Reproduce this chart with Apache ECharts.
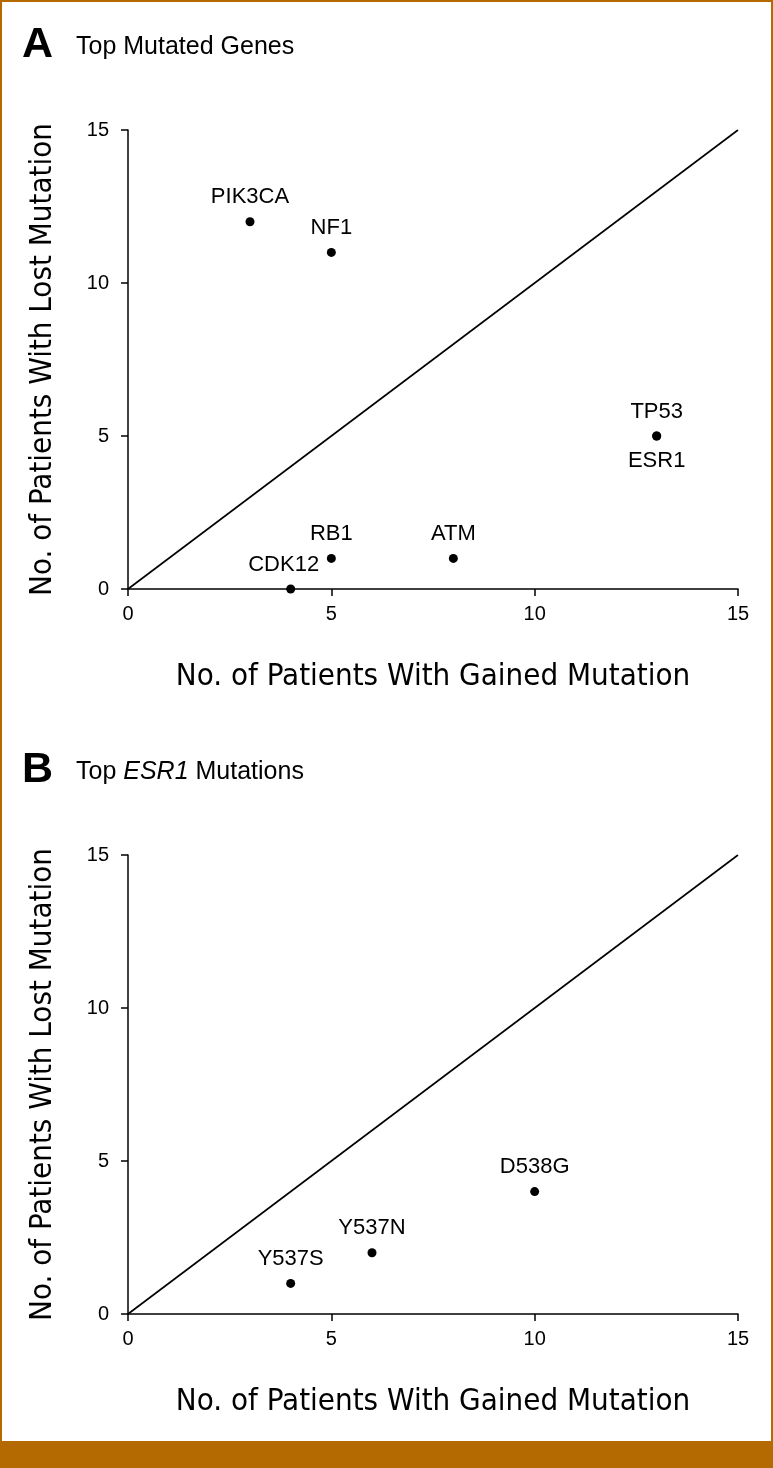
<!DOCTYPE html>
<html><head><meta charset="utf-8">
<script src="https://cdn.jsdelivr.net/npm/echarts@6/dist/echarts.min.js"></script>
<style>html,body{margin:0;padding:0;background:#fff}#c{width:773px;height:1468px}</style>
</head><body><div id="c"></div>
<script>
// Panel A: top mutated genes
const genesA = ['PIK3CA','NF1','TP53','ESR1','RB1','ATM','CDK12'];
const gainedA = [3,5,13,13,5,8,4];
const lostA   = [12,11,5,5,1,1,0];
const labelPosA = ['top','top','top','bottom','top','top','top'];
// Panel B: top ESR1 mutations
const mutsB = ['Y537S','Y537N','D538G'];
const gainedB = [4,6,10];
const lostB = [1,2,4];
const diag = [[0,0],[15,15]];

const ORANGE = '#b46a00';
const axisFont = 'DejaVu Sans Condensed, Liberation Sans Narrow, sans-serif';
const font = 'Liberation Sans, Arial, sans-serif';

function xAx(i){return {gridIndex:i,type:'value',min:0,max:15,interval:5,
  axisLine:{lineStyle:{color:'#000',width:1.5}},axisTick:{length:7,lineStyle:{color:'#000',width:1.5}},
  axisLabel:{color:'#000',fontSize:20,fontFamily:font,margin:15},splitLine:{show:false},
  name:'No. of Patients With Gained Mutation',nameLocation:'middle',nameGap:72,
  nameTextStyle:{color:'#000',fontSize:31,fontFamily:axisFont}};}
function yAx(i){return {gridIndex:i,type:'value',min:0,max:15,interval:5,
  axisLine:{lineStyle:{color:'#000',width:1.5}},axisTick:{length:7,lineStyle:{color:'#000',width:1.5}},
  axisLabel:{color:'#000',fontSize:20,fontFamily:font,margin:19},splitLine:{show:false},
  name:'No. of Patients With Lost Mutation',nameLocation:'middle',nameGap:70,
  nameTextStyle:{color:'#000',fontSize:31,fontFamily:axisFont}};}

const dataA = genesA.map((g,i)=>({value:[gainedA[i],lostA[i]],name:g,
  label:{position:labelPosA[i],offset:g==='CDK12'?[-7,0]:[0,0]}}));
const dataB = mutsB.map((g,i)=>({value:[gainedB[i],lostB[i]],name:g}));
const lbl = {show:true,formatter:p=>p.name,color:'#000',fontSize:22,fontFamily:font,position:'top',distance:9};

const chart = echarts.init(document.getElementById('c'));
chart.setOption({
  animation:false,
  grid:[{left:128,right:35,top:130,height:459},{left:128,right:35,top:855,height:459}],
  xAxis:[xAx(0),xAx(1)],
  yAxis:[yAx(0),yAx(1)],
  series:[
    {type:'line',xAxisIndex:0,yAxisIndex:0,data:diag,symbol:'none',lineStyle:{color:'#000',width:1.6},silent:true},
    {type:'line',xAxisIndex:1,yAxisIndex:1,data:diag,symbol:'none',lineStyle:{color:'#000',width:1.6},silent:true},
    {type:'scatter',xAxisIndex:0,yAxisIndex:0,data:dataA,symbolSize:9,itemStyle:{color:'#000',opacity:1},label:lbl},
    {type:'scatter',xAxisIndex:1,yAxisIndex:1,data:dataB,symbolSize:9,itemStyle:{color:'#000',opacity:1},label:lbl}
  ],
  graphic:[
    {type:'text',x:22,y:45,style:{text:'A',font:'bold 43px '+font,fill:'#000',verticalAlign:'middle'}},
    {type:'text',x:76,y:47,style:{text:'Top Mutated Genes',font:'25px '+font,fill:'#000',verticalAlign:'middle'}},
    {type:'text',x:22,y:770,style:{text:'B',font:'bold 43px '+font,fill:'#000',verticalAlign:'middle'}},
    {type:'text',x:76,y:772,style:{text:'{n|Top }{i|ESR1}{n| Mutations}',verticalAlign:'middle',
      rich:{n:{fontSize:25,fontFamily:font,fill:'#000'},i:{fontSize:25,fontFamily:font,fill:'#000',fontStyle:'italic'}}}},
    {type:'rect',shape:{x:0,y:0,width:773,height:2},style:{fill:ORANGE}},
    {type:'rect',shape:{x:0,y:0,width:2,height:1468},style:{fill:ORANGE}},
    {type:'rect',shape:{x:771,y:0,width:2,height:1468},style:{fill:ORANGE}},
    {type:'rect',shape:{x:0,y:1441,width:773,height:27},style:{fill:ORANGE}}
  ]
});
</script></body></html>
